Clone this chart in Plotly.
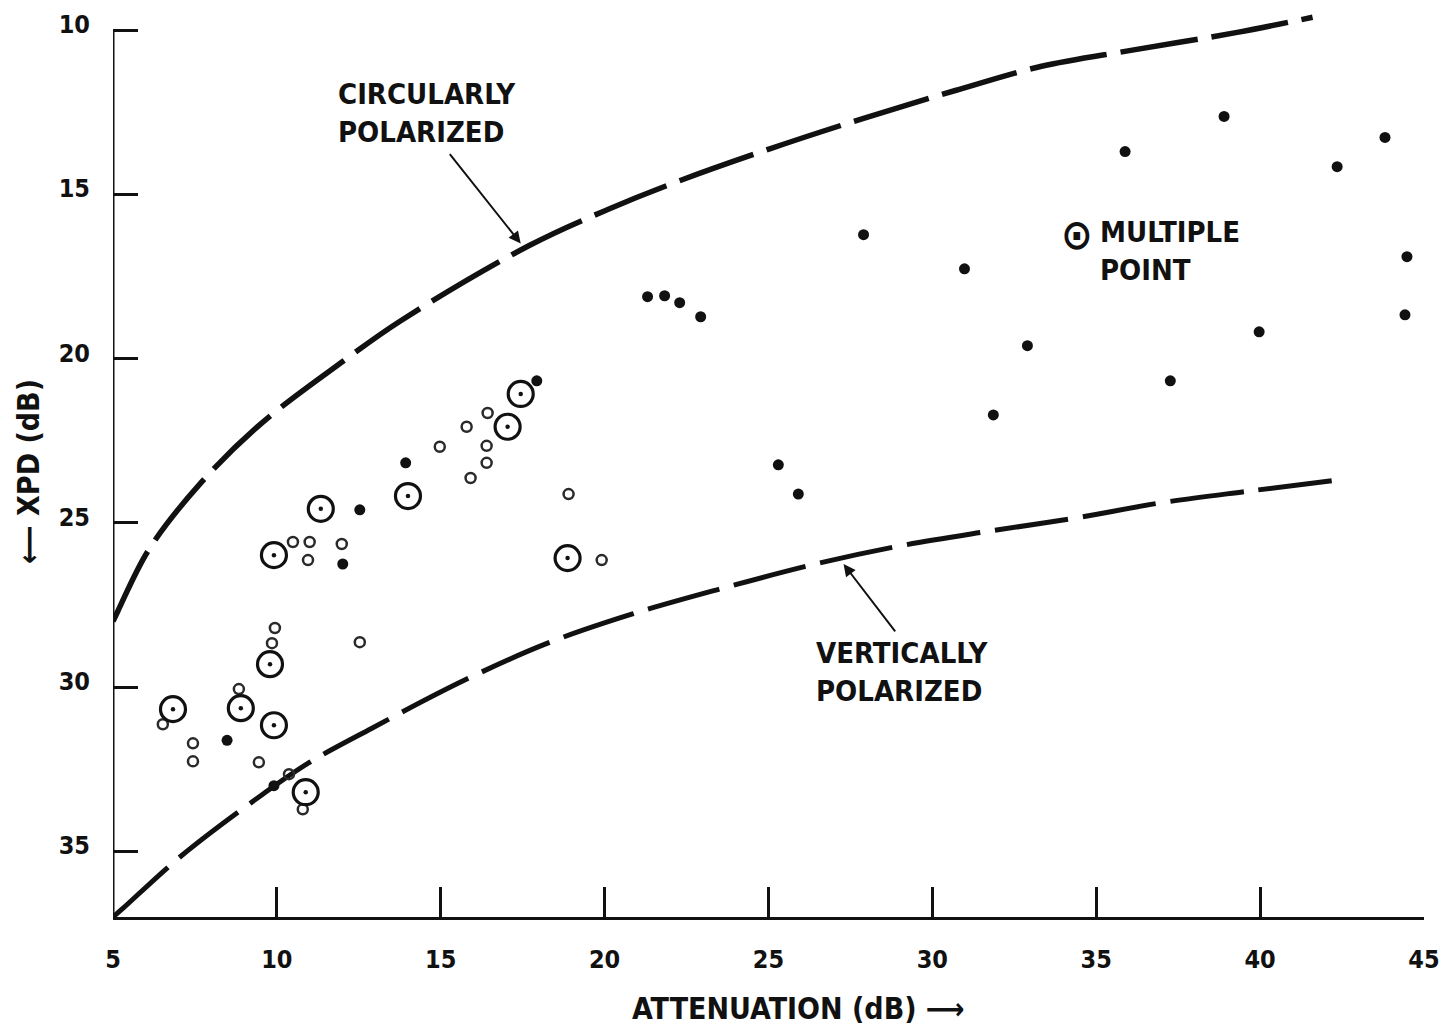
import plotly.graph_objects as go

# ---- data ----
circ_x = [5.0, 5.15, 6.1, 7.68, 9.51, 12.04, 13.78, 17.7, 20.15, 22.15, 25.06, 27.95, 30.7, 33.3, 36.1, 39.3, 41.6]
circ_y = [28.0, 27.68, 25.8, 23.78, 21.98, 20.06, 18.84, 16.55, 15.43, 14.63, 13.6, 12.66, 11.83, 11.1, 10.6, 10.06, 9.6]

vert_x = [5.0, 5.3, 7.07, 9.57, 10.98, 12.9, 15.7, 18.26, 20.85, 23.63, 26.43, 29.0, 31.8, 34.36, 36.95, 39.73, 42.6]
vert_y = [37.0, 36.74, 35.15, 33.26, 32.3, 31.25, 29.8, 28.66, 27.77, 26.98, 26.25, 25.7, 25.24, 24.85, 24.39, 24.02, 23.66]

multi_x = [6.83, 8.9, 9.79, 9.91, 10.88, 9.91, 11.34, 14.0, 17.04, 17.44, 18.87]
multi_y = [30.67, 30.64, 29.3, 31.16, 33.2, 25.98, 24.57, 24.18, 22.07, 21.07, 26.07]

open_x = [10.49, 11.0, 10.95, 11.98, 9.94, 9.85, 12.53, 6.52, 7.44, 7.44, 8.84, 9.45, 10.37, 10.79,
          16.43, 15.79, 14.97, 16.4, 16.4, 15.91, 18.9, 19.91]
open_y = [25.58, 25.58, 26.13, 25.64, 28.2, 28.66, 28.63, 31.13, 31.71, 32.26, 30.06, 32.29, 32.65, 33.72,
          21.65, 22.07, 22.68, 22.65, 23.17, 23.63, 24.12, 26.13]

solid_x = [12.01, 12.53, 13.93, 8.48, 9.91, 17.93,
           21.31, 21.83, 22.29, 22.93, 27.9, 30.98, 35.88, 38.9, 42.35, 43.81, 44.48, 44.42,
           39.97, 32.9, 37.26, 31.86, 25.3, 25.91]
solid_y = [26.25, 24.6, 23.17, 31.62, 33.0, 20.67,
           18.11, 18.08, 18.29, 18.72, 16.22, 17.26, 13.69, 12.62, 14.15, 13.26, 16.89, 18.66,
           19.18, 19.6, 20.67, 21.71, 23.23, 24.12]

x_ticks = [5, 10, 15, 20, 25, 30, 35, 40, 45]
y_ticks = [10, 15, 20, 25, 30, 35]

FONT = "Liberation Sans Narrow, DejaVu Sans Condensed, Roboto Condensed, Arial Narrow, Liberation Sans, sans-serif"
INK = "#111111"

fig = go.Figure()

fig.add_trace(go.Scatter(x=circ_x, y=circ_y, mode="lines",
                         line=dict(color=INK, width=5.5, dash="78px,14px", shape="spline"),
                         hoverinfo="skip", showlegend=False))
fig.add_trace(go.Scatter(x=vert_x, y=vert_y, mode="lines",
                         line=dict(color=INK, width=5, dash="74px,15px", shape="spline"),
                         hoverinfo="skip", showlegend=False))

fig.add_trace(go.Scatter(x=open_x, y=open_y, mode="markers",
                         marker=dict(symbol="circle-open", size=10, color="#2a2a2a", line=dict(width=2.5)),
                         showlegend=False))
fig.add_trace(go.Scatter(x=solid_x, y=solid_y, mode="markers",
                         marker=dict(symbol="circle", size=11, color=INK, line=dict(width=0)),
                         showlegend=False))
fig.add_trace(go.Scatter(x=multi_x, y=multi_y, mode="markers",
                         marker=dict(symbol="circle-open", size=25, color=INK, line=dict(width=3.2)),
                         showlegend=False))
fig.add_trace(go.Scatter(x=multi_x, y=multi_y, mode="markers",
                         marker=dict(symbol="circle", size=4.5, color=INK, line=dict(width=0)),
                         showlegend=False))

# y-axis spine from 10 to 37 only
fig.add_shape(type="line", xref="x", yref="y", x0=5, x1=5, y0=10, y1=37,
              line=dict(color=INK, width=3))

def label(text, x, y, size=29, xanchor="left"):
    fig.add_annotation(text=text, x=x, y=y, xref="x", yref="y", xanchor=xanchor, yanchor="middle",
                       align="left", showarrow=False,
                       font=dict(family=FONT, size=size, color=INK, weight="bold"))

label("CIRCULARLY<br>POLARIZED", 11.8, 12.5)
label("VERTICALLY<br>POLARIZED", 26.4, 29.54)
label("MULTIPLE<br>POINT", 35.05, 16.72)
label("⊙", 34.4, 16.2, size=42, xanchor="center")

# pointer arrows
fig.add_annotation(x=17.44, y=16.49, ax=15.24, ay=13.72, xref="x", yref="y", axref="x", ayref="y",
                   text="", showarrow=True, arrowhead=2, arrowsize=1.2, arrowwidth=2, arrowcolor=INK)
fig.add_annotation(x=27.29, y=26.25, ax=28.9, ay=28.35, xref="x", yref="y", axref="x", ayref="y",
                   text="", showarrow=True, arrowhead=2, arrowsize=1.2, arrowwidth=2, arrowcolor=INK)

# axis titles
fig.add_annotation(text="ATTENUATION (dB) ⟶", xref="paper", yref="paper", x=0.523, y=-0.1008,
                   xanchor="center", yanchor="middle", showarrow=False,
                   font=dict(family=FONT, size=30, color=INK, weight="bold"))
fig.add_annotation(text="⟵ XPD (dB)", xref="paper", yref="paper", x=-0.0648, y=0.4928,
                   xanchor="center", yanchor="middle", showarrow=False, textangle=-90,
                   font=dict(family=FONT, size=30, color=INK, weight="bold"))

fig.update_layout(
    width=1442, height=1028,
    margin=dict(l=113, r=18, t=14, b=111, autoexpand=False),
    paper_bgcolor="white", plot_bgcolor="white",
    showlegend=False,
)
fig.update_xaxes(range=[5, 45], tickvals=x_ticks, ticktext=[str(v) for v in x_ticks],
                 automargin=False, ticklabeloverflow="allow",
                 showgrid=False, zeroline=False, showline=True, linecolor=INK, linewidth=3,
                 ticks="inside", ticklen=30, tickwidth=3, tickcolor=INK,
                 ticklabelstandoff=18,
                 tickfont=dict(family=FONT, size=25, color=INK, weight="bold"))
fig.update_yaxes(range=[37, 9.5], tickvals=y_ticks, ticktext=[str(v) for v in y_ticks],
                 automargin=False,
                 showgrid=False, zeroline=False, showline=False,
                 ticks="inside", ticklen=25, tickwidth=3, tickcolor=INK,
                 ticklabelstandoff=22, ticklabelshift=6,
                 tickfont=dict(family=FONT, size=25, color=INK, weight="bold"))

fig.write_html("out.html")
